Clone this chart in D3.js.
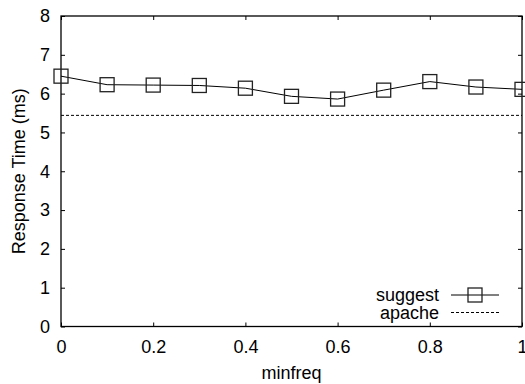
<!DOCTYPE html>
<html>
  <head>
    <script src="https://d3js.org/d3.v7.min.js" charset="utf-8"></script>
    <style type="text/css">
      body { margin: 0; background: #fff; }
      text { font-family: "Liberation Sans", Arial, sans-serif; fill: #000; }
    </style>
  </head>
  <body>
    <script type="text/javascript">
      // data
      var minfreq = [0, 0.1, 0.2, 0.3, 0.4, 0.5, 0.6, 0.7, 0.8, 0.9, 1.0];
      var suggest = [6.45, 6.23, 6.22, 6.21, 6.14, 5.93, 5.86, 6.09, 6.31, 6.17, 6.11];
      var apache = 5.44;
      var xTicks = [0, 0.2, 0.4, 0.6, 0.8, 1];
      var yTicks = [0, 1, 2, 3, 4, 5, 6, 7, 8];

      var width = 525, height = 384;
      var mLeft = 61, mRight = 522, mTop = 16, mBottom = 326.5;
      var fs = "18px";

      var svg = d3.select("body").append("svg")
          .attr("width", width)
          .attr("height", height);

      var x = d3.scaleLinear().domain([0, 1]).range([mLeft, mRight]);
      var y = d3.scaleLinear().domain([0, 8]).range([mBottom, mTop]);

      // ticks on all four sides, pointing inward
      svg.append("g").attr("transform", "translate(0," + mBottom + ")")
          .call(d3.axisBottom(x).tickValues(xTicks).tickSize(-4).tickPadding(14).tickFormat(d3.format("")))
          .call(g => g.select(".domain").remove());
      svg.append("g").attr("transform", "translate(0," + mTop + ")")
          .call(d3.axisTop(x).tickValues(xTicks).tickSize(-4).tickFormat(""))
          .call(g => g.select(".domain").remove());
      svg.append("g").attr("transform", "translate(" + mLeft + ",0)")
          .call(d3.axisLeft(y).tickValues(yTicks).tickSize(-4).tickPadding(11))
          .call(g => g.select(".domain").remove());
      svg.append("g").attr("transform", "translate(" + mRight + ",0)")
          .call(d3.axisRight(y).tickValues(yTicks).tickSize(-4).tickFormat(""))
          .call(g => g.select(".domain").remove());

      svg.selectAll(".tick text").style("font-size", fs)
          .style("font-family", "'Liberation Sans', Arial, sans-serif");
      svg.selectAll(".tick line").attr("stroke", "#000");

      // frame
      svg.append("rect")
          .attr("x", mLeft).attr("y", mTop)
          .attr("width", mRight - mLeft).attr("height", mBottom - mTop)
          .attr("fill", "none").attr("stroke", "#000").attr("stroke-width", 1.3);

      // apache baseline
      svg.append("line")
          .attr("x1", x(0)).attr("x2", x(1))
          .attr("y1", y(apache)).attr("y2", y(apache))
          .attr("stroke", "#000").attr("stroke-dasharray", "3,2");

      // suggest series
      var pts = minfreq.map((d, i) => [d, suggest[i]]);
      svg.append("path")
          .datum(pts)
          .attr("fill", "none").attr("stroke", "#000").attr("stroke-width", 1)
          .attr("d", d3.line().x(d => x(d[0])).y(d => y(d[1])));

      var s = 14;
      svg.selectAll("rect.mark")
          .data(pts)
          .enter().append("rect")
          .attr("class", "mark")
          .attr("x", d => x(d[0]) - s / 2)
          .attr("y", d => y(d[1]) - s / 2)
          .attr("width", s).attr("height", s)
          .attr("fill", "none").attr("stroke", "#222").attr("stroke-width", 1.3);

      // legend
      var lg = svg.append("g");
      lg.append("text").attr("x", 439).attr("y", 295).attr("dy", "0.35em")
          .attr("text-anchor", "end").style("font-size", fs).text("suggest");
      lg.append("line").attr("x1", 451).attr("x2", 499).attr("y1", 295).attr("y2", 295)
          .attr("stroke", "#000");
      lg.append("rect").attr("x", 475 - s / 2).attr("y", 295 - s / 2)
          .attr("width", s).attr("height", s)
          .attr("fill", "none").attr("stroke", "#222").attr("stroke-width", 1.3);
      lg.append("text").attr("x", 439).attr("y", 312.5).attr("dy", "0.35em")
          .attr("text-anchor", "end").style("font-size", fs).text("apache");
      lg.append("line").attr("x1", 451).attr("x2", 499).attr("y1", 312.5).attr("y2", 312.5)
          .attr("stroke", "#000").attr("stroke-dasharray", "3,2");

      // axis titles
      svg.append("text")
          .attr("x", (mLeft + mRight) / 2).attr("y", 379)
          .attr("text-anchor", "middle").style("font-size", fs)
          .text("minfreq");
      svg.append("text")
          .attr("transform", "translate(25," + ((mTop + mBottom) / 2) + ") rotate(-90)")
          .attr("text-anchor", "middle").style("font-size", fs)
          .text("Response Time (ms)");
    </script>
  </body>
</html>
